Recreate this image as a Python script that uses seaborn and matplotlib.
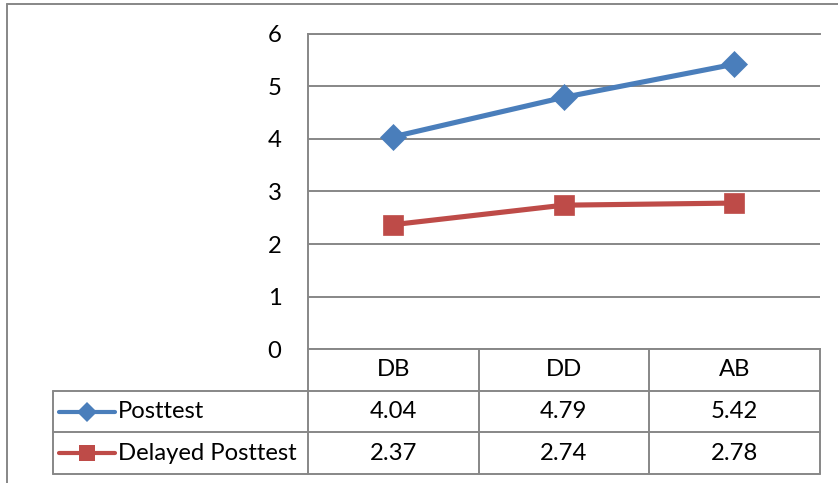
import matplotlib
matplotlib.use("Agg")
import matplotlib.pyplot as plt
import pandas as pd
import seaborn as sns
from matplotlib.transforms import Affine2D, blended_transform_factory
from matplotlib.lines import Line2D

# ---- data ----
groups = ["DB", "DD", "AB"]
posttest = [4.04, 4.79, 5.42]
delayed_posttest = [2.37, 2.74, 2.78]
series_names = ["Posttest", "Delayed Posttest"]
y_ticks = [0, 1, 2, 3, 4, 5, 6]

# ---- style ----
W, H = 838, 483
BLUE = "#4A7EBB"
RED = "#BE4B48"
GRID = "#878787"
FS = 17.2

sns.set_theme(style="white")
plt.rcParams["font.family"] = ["Lato", "DejaVu Sans"]

fig = plt.figure(figsize=(W / 100, H / 100), dpi=100)
# pixel coordinates measured from the top-left corner of the image
px = Affine2D().scale(1 / W, -1 / H).translate(0, 1) + fig.transFigure

x_left, x_right = 308, 819.5
y_top, y_zero = 33.7, 349.3
ax = fig.add_axes([x_left / W, 1 - y_zero / H,
                   (x_right - x_left) / W, (y_zero - y_top) / H])

df = pd.DataFrame({
    "group": groups * 2,
    "score": posttest + delayed_posttest,
    "series": [series_names[0]] * len(groups) + [series_names[1]] * len(groups),
})
palette = {series_names[0]: BLUE, series_names[1]: RED}
marker_map = {series_names[0]: "D", series_names[1]: "s"}

sns.lineplot(data=df, x="group", y="score", hue="series", style="series",
             markers=marker_map, dashes=False, palette=palette, sort=False,
             linewidth=3.7, legend=False, ax=ax)
for line, ms in zip(ax.lines, [13.5, 14]):
    line.set_markersize(ms)
    line.set_markeredgewidth(0.5)
    line.set_markeredgecolor(line.get_color())

ax.set_xlim(-0.5, len(groups) - 0.5)
ax.set_ylim(0, 6)
ax.set_yticks(y_ticks)
ax.set_xticks(range(len(groups)))
ax.set_xticklabels([])
ax.set_xlabel("")
ax.set_ylabel("")
ax.yaxis.grid(True, color=GRID, linewidth=1.4)
ax.xaxis.grid(False)
ax.tick_params(axis="y", length=0, pad=19, labelsize=FS, labelcolor="black")
ax.tick_params(axis="x", length=0)
for side in ["left", "bottom", "top"]:
    ax.spines[side].set_color(GRID)
    ax.spines[side].set_linewidth(1.4)
ax.spines["right"].set_visible(False)

# ---- data table below the axis ----
bt = blended_transform_factory(ax.transData, px)
row_header = (349.3, 390.7)
row_1 = (390.7, 432.3)
row_2 = (432.3, 474.0)
legend_left = 53


def seg(xs, ys, transform):
    fig.add_artist(Line2D(xs, ys, transform=transform, color=GRID,
                          linewidth=1.4, clip_on=False))


# column separators
for b in [i - 0.5 for i in range(len(groups) + 1)]:
    seg([b, b], [row_header[0], row_2[1]], bt)
# row separators
for yy in [row_1[0], row_2[0], row_2[1]]:
    seg([legend_left, x_right], [yy, yy], px)
seg([legend_left, legend_left], [row_1[0], row_2[1]], px)

for i, g in enumerate(groups):
    fig.text(i, sum(row_header) / 2, g, transform=bt, ha="center",
             va="center", fontsize=FS, color="black")
    fig.text(i, sum(row_1) / 2, f"{posttest[i]:.2f}", transform=bt,
             ha="center", va="center", fontsize=FS, color="black")
    fig.text(i, sum(row_2) / 2, f"{delayed_posttest[i]:.2f}", transform=bt,
             ha="center", va="center", fontsize=FS, color="black")

# legend keys inside the table
for (r0, r1), name, color, mk, ms in [
    (row_1, series_names[0], BLUE, "D", 10),
    (row_2, series_names[1], RED, "s", 11),
]:
    yc = (r0 + r1) / 2
    fig.add_artist(Line2D([59, 115], [yc, yc], transform=px, color=color,
                          linewidth=3.0, solid_capstyle="round"))
    fig.add_artist(Line2D([87], [yc], transform=px, color=color, marker=mk,
                          markersize=ms, markeredgewidth=0))
    fig.text(118, yc, name, transform=px, ha="left", va="center",
             fontsize=FS, color="black")

# chart frame
seg([7, 7], [4, H], px)
seg([7, W], [4, 4], px)

fig.savefig("out.png", dpi=100)
